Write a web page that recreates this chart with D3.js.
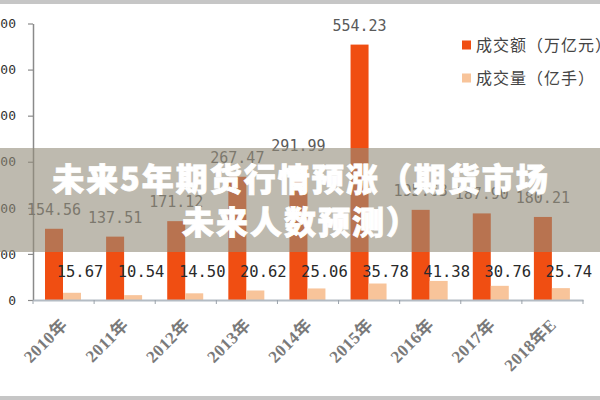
<!DOCTYPE html>
<html>
<head>
<meta charset="utf-8">
<script src="https://cdn.jsdelivr.net/npm/d3@7/dist/d3.min.js"></script>
<style>
  html, body { margin: 0; padding: 0; background: #fff; }
  svg { display: block; }
</style>
</head>
<body>
<svg id="chart" width="600" height="400"></svg>
<script>
const categories = ["2010年", "2011年", "2012年", "2013年", "2014年", "2015年", "2016年", "2017年", "2018年E"];
const seriesNames = ["成交额（万亿元）", "成交量（亿手）"];
const turnover = [154.56, 137.51, 171.12, 267.47, 291.99, 554.23, 195.63, 187.90, 180.21];
const volume = [15.67, 10.54, 14.50, 20.62, 25.06, 35.78, 41.38, 30.76, 25.74];
const yTicks = [0, 100, 200, 300, 400, 500, 600];
const titleLines = ["未来5年期货行情预涨（期货市场", "未来人数预测）"];
const colors = ["#f04e12", "#f8c49a"];

const svg = d3.select("#chart");
const W = 600, H = 400;

svg.append("rect").attr("width", W).attr("height", H).attr("fill", "#ffffff");

const y = d3.scaleLinear().domain([0, 600]).range([300, 23.5]);
const x = d3.scaleBand().domain(categories).range([33, 583]).paddingInner(0).paddingOuter(0);
const inner = d3.scaleBand().domain(seriesNames).range([12, 48]);

const series = [turnover, volume];

// bars
const g = svg.append("g");
categories.forEach((c, i) => {
  seriesNames.forEach((s, k) => {
    const v = series[k][i];
    g.append("rect")
      .attr("x", x(c) + inner(s))
      .attr("y", y(v))
      .attr("width", inner.bandwidth())
      .attr("height", y(0) - y(v))
      .attr("fill", colors[k]);
  });
});

// y axis
const yAxis = d3.axisLeft(y).tickValues(yTicks).tickSize(5).tickSizeOuter(0).tickPadding(12).tickFormat(d3.format("d"));
const yg = svg.append("g").attr("transform", "translate(33,0)").call(yAxis);
yg.select(".domain").attr("stroke", "#8a8a8a").attr("stroke-width", 1.5);
yg.selectAll(".tick line").attr("stroke", "#8a8a8a").attr("stroke-width", 1.2);
yg.selectAll(".tick text")
  .attr("font-family", "'DejaVu Sans Mono', monospace")
  .attr("font-size", 13)
  .attr("fill", "#333");

// x axis
const xAxis = d3.axisBottom(x).tickSize(0).tickSizeOuter(0);
const xg = svg.append("g").attr("transform", `translate(0,${y(0)})`).call(xAxis);
xg.select(".domain").attr("stroke", "#b4bcc4").attr("stroke-width", 2);
xg.selectAll(".tick text")
  .attr("y", 0).attr("dy", 0)
  .attr("text-anchor", "end")
  .attr("transform", "translate(5,26) rotate(-45)")
  .attr("font-family", "'Liberation Serif', 'Noto Sans CJK SC', serif")
  .attr("font-weight", "bold")
  .attr("font-size", 17)
  .attr("letter-spacing", 0.5)
  .attr("fill", "#7a7a7a");
// x tick marks at band edges
const edges = categories.map(c => x(c)).concat([x.range()[1]]);
svg.append("g").selectAll("line").data(edges).join("line")
  .attr("x1", d => d).attr("x2", d => d)
  .attr("y1", y(0)).attr("y2", y(0) + 4)
  .attr("stroke", "#9aa2aa").attr("stroke-width", 1);

// value labels
categories.forEach((c, i) => {
  svg.append("text")
    .attr("x", x(c) + inner(seriesNames[0]) + inner.bandwidth() / 2)
    .attr("y", y(turnover[i]) - 14)
    .attr("text-anchor", "middle")
    .attr("font-family", "'DejaVu Sans Mono', monospace")
    .attr("font-size", 15)
    .attr("fill", "#5a5a5a")
    .text(d3.format(".2f")(turnover[i]));
  svg.append("text")
    .attr("x", x(c) + inner(seriesNames[1]) + inner.bandwidth() / 2 + 8)
    .attr("y", y(0) - 23)
    .attr("text-anchor", "middle")
    .attr("font-family", "'DejaVu Sans Mono', monospace")
    .attr("font-size", 15.5)
    .attr("fill", "#2a2a2a")
    .text(d3.format(".2f")(volume[i]));
});

// legend
const lg = svg.append("g");
seriesNames.forEach((s, k) => {
  const ly = 45 + k * 33;
  lg.append("rect").attr("x", 462).attr("y", ly - 4.5).attr("width", 9).attr("height", 9).attr("fill", colors[k]);
  lg.append("text")
    .attr("x", 476).attr("y", ly + 6)
    .attr("font-family", "'Noto Sans CJK SC', sans-serif")
    .attr("font-size", 16)
    .attr("letter-spacing", 1)
    .attr("fill", "#444")
    .text(s);
});

// top and bottom strips
svg.append("rect").attr("x", 0).attr("y", 0).attr("width", W).attr("height", 4).attr("fill", "#c6c6c6");
svg.append("rect").attr("x", 0).attr("y", 396).attr("width", W).attr("height", 4).attr("fill", "#c6c6c6");

// title overlay band
svg.append("rect").attr("x", 0).attr("y", 148).attr("width", W).attr("height", 104)
  .attr("fill", "rgb(147,140,122)").attr("fill-opacity", 0.6);

svg.append("g").selectAll("text").data(titleLines).join("text")
  .attr("x", 301)
  .attr("y", (d, i) => 191 + i * 43)
  .attr("text-anchor", "middle")
  .attr("font-family", "'Noto Sans CJK SC', sans-serif")
  .attr("font-weight", 900)
  .attr("font-size", 32)
  .attr("letter-spacing", 2)
  .attr("fill", "#ffffff")
  .attr("stroke", "#ffffff")
  .attr("stroke-width", 0.8)
  .text(d => d);
</script>
</body>
</html>
